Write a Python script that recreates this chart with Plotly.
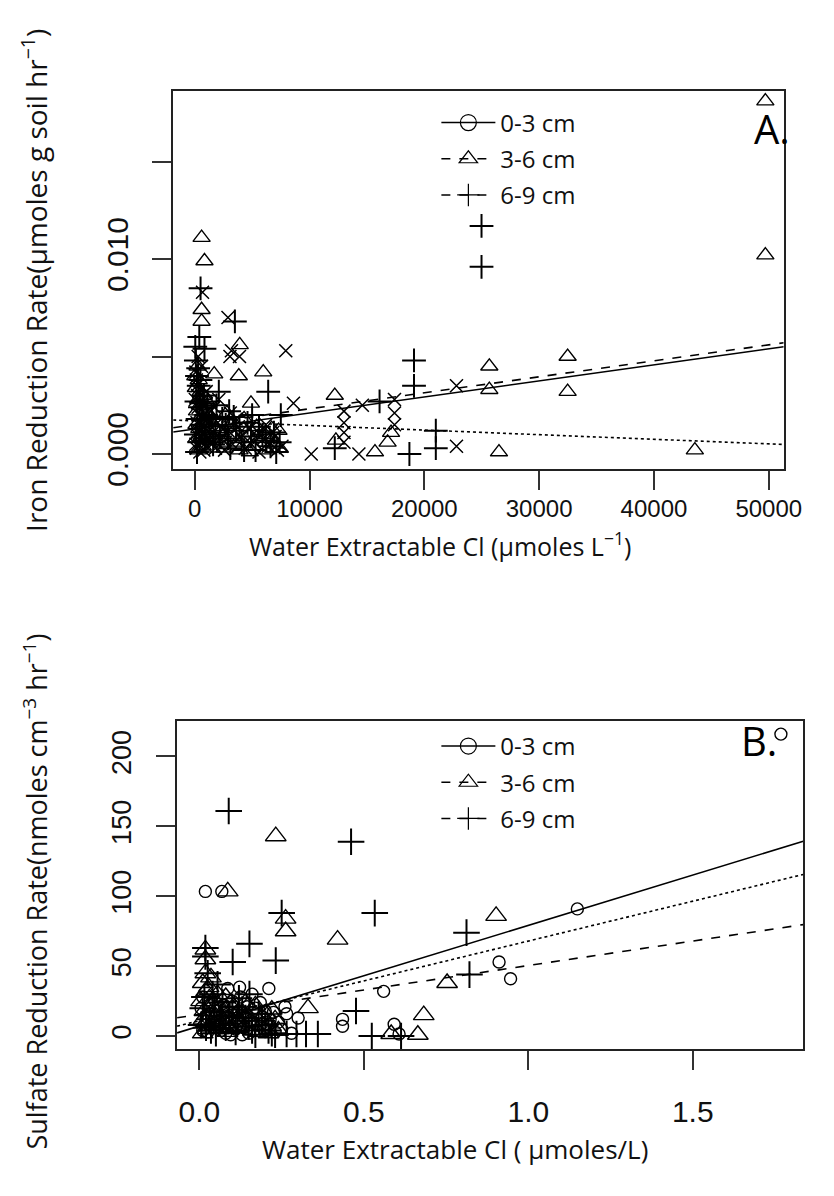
import plotly.graph_objects as go

# ---------------- Panel A data (Water extractable Cl, umol/L  vs  Fe reduction rate) ----------------
a03_x = [680, 2900, 3200, 3900, 3070, 7930, 8600, 10150, 14300, 14600, 13000, 13000, 13000, 13000,
         17400, 17400, 17400, 22800, 22800,
         150, 250, 300, 400, 200, 500, 350, 600, 150, 450, 700, 800, 900, 1000, 1100, 1200, 1400, 1600,
         1800, 2000, 2300, 2600, 2900, 3300, 3600, 4000, 4400, 4800, 5200, 5600, 6000, 6400, 6800, 7200,
         600, 300, 1000, 2100, 1500, 800,
         100, 200, 50, 350, 250, 100, 550, 650, 750, 950, 1300, 1700, 2500, 3100, 3800, 4600, 5400, 6200,
         7000, 7600]
a03_y = [0.0083, 0.0070, 0.0053, 0.0050, 0.0050, 0.0053, 0.0026, 0.0000, 0.0000, 0.0025, 0.0022, 0.0016, 0.0011, 0.0006,
         0.0028, 0.0021, 0.0015, 0.0035, 0.0004,
         0.0038, 0.0030, 0.0024, 0.0020, 0.0016, 0.0012, 0.0009, 0.0006, 0.0003, 0.0001, 0.0025, 0.0018, 0.0010, 0.0004,
         0.0014, 0.0007, 0.0022, 0.0011, 0.0003, 0.0016, 0.0008, 0.0002, 0.0012, 0.0005, 0.0018, 0.0009, 0.0003, 0.0013,
         0.0006, 0.0001, 0.0008, 0.0004, 0.0011, 0.0002, 0.0045, 0.0050, 0.0032, 0.0028, 0.0005, 0.0002,
         0.0042, 0.0035, 0.0028, 0.0032, 0.0011, 0.0005, 0.0027, 0.0015, 0.0008, 0.0021, 0.0017, 0.0024, 0.0013,
         0.0021, 0.0014, 0.0007, 0.0012, 0.0015, 0.0009, 0.0004]

a36_x = [49700, 49700, 600, 850, 600, 600, 32480, 32480, 25660, 25660, 26500, 43560, 12200, 1700, 3840, 5970,
         3920, 15700, 17100, 16800, 12300, 4900, 7300,
         100, 300, 200, 500, 400, 150, 700, 300, 900, 1200, 1100, 1500, 1900, 2400, 2800, 3400, 3900, 4500,
         5100, 5700, 6300, 7000, 500, 250,
         50, 150, 350, 450, 600, 800, 1000, 1300, 1700, 2200, 2600, 3100, 3700, 4300, 4800, 5400, 6100, 6700, 7400]
a36_y = [0.0181, 0.0102, 0.0111, 0.0099, 0.0074, 0.0068, 0.0050, 0.0032, 0.0045, 0.0033, 0.0001, 0.0002, 0.0030,
         0.0041, 0.0040, 0.0042, 0.0056, 0.0001, 0.0011, 0.0006, 0.0007, 0.0026, 0.0012,
         0.0034, 0.0028, 0.0022, 0.0019, 0.0013, 0.0008, 0.0004, 0.0002, 0.0016, 0.0026, 0.0009, 0.0003, 0.0013,
         0.0006, 0.0021, 0.0009, 0.0002, 0.0011, 0.0004, 0.0008, 0.0002, 0.0005, 0.0032, 0.0045,
         0.0040, 0.0015, 0.0038, 0.0025, 0.0009, 0.0030, 0.0014, 0.0020, 0.0008, 0.0016, 0.0003, 0.0015, 0.0006,
         0.0018, 0.0001, 0.0014, 0.0010, 0.0013, 0.0003]

a69_x = [24980, 24980, 19100, 19100, 3500, 510, 400, 850, 2100, 6400, 7500, 16100, 18700, 12200, 21000, 21000,
         100, 200, 350, 150, 450, 250, 600, 100, 400, 200, 800, 1000, 1300, 1600, 1900, 2200, 2700, 3100,
         3600, 4100, 4600, 5300, 5900, 6600, 7100, 3000, 5000,
         50, 300, 500, 700, 900, 1100, 1500, 1800, 2400, 2900, 3400, 3900, 4300, 4900, 5600, 6200, 6900, 7400]
a69_y = [0.0117, 0.0096, 0.0048, 0.0035, 0.0068, 0.0085, 0.0060, 0.0054, 0.0032, 0.0032, 0.0020, 0.0027, 0.0000,
         0.0003, 0.0012, 0.0003,
         0.0048, 0.0040, 0.0035, 0.0027, 0.0024, 0.0018, 0.0015, 0.0010, 0.0006, 0.0001, 0.0030, 0.0020, 0.0012,
         0.0005, 0.0025, 0.0009, 0.0015, 0.0003, 0.0012, 0.0006, 0.0016, 0.0002, 0.0010, 0.0004, 0.0001, 0.0022, 0.0020,
         0.0055, 0.0044, 0.0038, 0.0026, 0.0008, 0.0027, 0.0019, 0.0010, 0.0018, 0.0008, 0.0019, 0.0014, 0.0002,
         0.0009, 0.0014, 0.0007, 0.0011, 0.0006]

# regression lines (intercept, slope) for 0-3, 3-6, 6-9 cm
a_fit_int = [0.00128, 0.00150, 0.00170]
a_fit_slope = [8.23e-8, 8.2e-8, -2.36e-8]

# ---------------- Panel B data (Water extractable Cl vs sulfate reduction rate) ----------------
b03_x = [1.768, 1.149, 0.911, 0.946, 0.018, 0.068, 0.086, 0.122, 0.211, 0.56, 0.435, 0.435, 0.592, 0.607, 0.265, 0.24,
         0.01, 0.03, 0.05, 0.02, 0.04, 0.06, 0.01, 0.08, 0.10, 0.12, 0.14, 0.09, 0.11, 0.15, 0.17, 0.19, 0.21, 0.23,
         0.16, 0.13, 0.07, 0.25, 0.28, 0.20,
         0.005, 0.015, 0.025, 0.035, 0.045, 0.055, 0.065, 0.075, 0.085, 0.095, 0.105, 0.115, 0.125, 0.135,
         0.145, 0.155, 0.165, 0.175, 0.185, 0.195, 0.215, 0.225, 0.26, 0.30]
b03_y = [216, 91, 53, 41, 103.5, 103.5, 34, 35, 34, 32, 12, 7, 8.5, 1.5, 16, 10,
         28, 22, 18, 14, 10, 7, 4, 2, 25, 18, 13, 9, 5, 2, 20, 14, 8, 3, 30, 1, 15, 5, 2, 18,
         20, 8, 3, 16, 26, 11, 4, 22, 13, 1, 17, 10, 28, 6, 21, 11, 4, 8, 24, 5, 12, 17, 21, 13]

b36_x = [0.902, 0.753, 0.682, 0.664, 0.232, 0.086, 0.262, 0.262, 0.42, 0.018, 0.018, 0.018, 0.33, 0.583, 0.22,
         0.01, 0.02, 0.03, 0.04, 0.015, 0.05, 0.02, 0.06, 0.01, 0.08, 0.10, 0.12, 0.09, 0.14, 0.16, 0.18, 0.07,
         0.035, 0.20, 0.24,
         0.005, 0.012, 0.025, 0.028, 0.045, 0.055, 0.065, 0.075, 0.085, 0.095, 0.105, 0.115, 0.13, 0.15, 0.17,
         0.19, 0.21, 0.23]
b36_y = [86, 38, 15, 1, 143, 103.5, 84, 75, 69, 62, 55, 45, 20, 1.5, 19,
         38, 32, 27, 22, 18, 14, 10, 6, 2, 28, 20, 12, 5, 24, 9, 3, 17, 42, 16, 4,
         25, 12, 5, 35, 8, 30, 20, 11, 3, 24, 14, 7, 17, 14, 22, 8, 2, 12]

b69_x = [0.089, 0.461, 0.533, 0.25, 0.152, 0.101, 0.232, 0.018, 0.152, 0.476, 0.524, 0.812, 0.821, 0.613,
         0.265, 0.295, 0.324, 0.36,
         0.01, 0.03, 0.02, 0.05, 0.07, 0.06, 0.09, 0.11, 0.13, 0.15, 0.17, 0.19, 0.21, 0.23, 0.04, 0.12, 0.025,
         0.005, 0.015, 0.035, 0.045, 0.055, 0.065, 0.08, 0.10, 0.115, 0.14, 0.16, 0.18, 0.20, 0.22, 0.018]
b69_y = [161, 139, 88, 88, 66, 53, 54, 63, 30, 18, 0, 74, 44, 0,
         1.5, 1.5, 1.5, 1.5,
         20, 12, 6, 2, 24, 9, 15, 3, 19, 7, 1, 11, 4, 1, 30, 27, 45,
         8, 28, 4, 17, 37, 14, 6, 21, 9, 13, 4, 16, 8, 2, 57]

b_fit_int = [7.2, 15.5, 11.0]
b_fit_slope = [72.0, 35.0, 57.0]

depth_labels = ["0-3 cm", "3-6 cm", "6-9 cm"]
line_dashes = ["solid", "dash", "dot"]
legend_dashes = ["solid", "dash", "dash"]
legend_symbols = ["circle-open", "triangle-up-open", "cross-thin-open"]

a_xrange = [-1875, 51300]
a_yrange = [-0.00076, 0.01864]
b_xrange = [-0.068, 1.836]
b_yrange = [-9.2, 225.4]

fig = go.Figure()

BLK = "black"


def add_pts(x, y, sym, size, xa, ya, lw=1.4):
    fig.add_trace(go.Scatter(
        x=x, y=y, mode="markers", xaxis=xa, yaxis=ya, showlegend=False,
        marker=dict(symbol=sym, size=size, color=BLK, line=dict(color=BLK, width=lw))))


# Panel A points
add_pts(a03_x, a03_y, "x-thin-open", 13, "x", "y", lw=1.5)
add_pts(a36_x, a36_y, "triangle-up-open", 15, "x", "y")
add_pts(a69_x, a69_y, "cross-thin-open", 17, "x", "y", lw=2)

# Panel B points
add_pts(b03_x, b03_y, "circle-open", 12, "x2", "y2", lw=1.4)
add_pts(b36_x, b36_y, "triangle-up-open", 18, "x2", "y2")
add_pts(b69_x, b69_y, "cross-thin-open", 19, "x2", "y2", lw=2)

# regression lines
for i in range(3):
    fig.add_trace(go.Scatter(
        x=a_xrange, y=[a_fit_int[i] + a_fit_slope[i] * v for v in a_xrange],
        mode="lines", xaxis="x", yaxis="y", showlegend=False,
        line=dict(color=BLK, width=1.6, dash=line_dashes[i])))
    fig.add_trace(go.Scatter(
        x=b_xrange, y=[b_fit_int[i] + b_fit_slope[i] * v for v in b_xrange],
        mode="lines", xaxis="x2", yaxis="y2", showlegend=False,
        line=dict(color=BLK, width=1.6, dash=line_dashes[i])))

# legend entries
leg_sizes = [16, 22, 20]
for lg in ["legend", "legend2"]:
    for i in range(3):
        fig.add_trace(go.Scatter(
            x=[None], y=[None], mode="lines+markers", name=depth_labels[i], legend=lg,
            legendgroup=lg + str(i), xaxis="x" if lg == "legend" else "x2",
            yaxis="y" if lg == "legend" else "y2",
            line=dict(color=BLK, width=1.6, dash=legend_dashes[i]),
            marker=dict(symbol=legend_symbols[i], size=leg_sizes[i], color=BLK,
                        line=dict(color=BLK, width=1.2))))

W, H = 834, 1196
TF = "Liberation Sans, Arial"

axcommon = dict(showline=True, mirror=True, linecolor="#222", linewidth=2, ticks="outside",
                ticklen=19, tickwidth=1.6, tickcolor="#333", showgrid=False, zeroline=False)

leg_common = dict(bgcolor="rgba(0,0,0,0)", borderwidth=0,
                  font=dict(family="Open Sans", size=24, color="#111"),
                  tracegroupgap=2, xanchor="left", yanchor="top", itemwidth=54)

fig.update_layout(
    width=W, height=H, margin=dict(l=0, r=0, t=0, b=0),
    paper_bgcolor="white", plot_bgcolor="white",
    xaxis=dict(domain=[177 / W, 801 / W], range=a_xrange, anchor="y",
               tickvals=[0, 10000, 20000, 30000, 40000, 50000],
               ticktext=["0", "10000", "20000", "30000", "40000", "50000"],
               tickfont=dict(family=TF, size=24, color="#111"), ticklabelstandoff=-2, **axcommon),
    yaxis=dict(domain=[1 - 476 / H, 1 - 92 / H], range=a_yrange, anchor="x",
               tickvals=[0, 0.005, 0.010, 0.015], ticktext=["0.000", "", "0.010", ""],
               tickangle=-90, tickfont=dict(family=TF, size=30, color="#111"), ticklabelstandoff=12,
               **axcommon),
    xaxis2=dict(domain=[181 / W, 821 / W], range=b_xrange, anchor="y2",
                tickvals=[0, 0.5, 1.0, 1.5], ticktext=["0.0", "0.5", "1.0", "1.5"],
                tickfont=dict(family=TF, size=30, color="#111"), ticklabelstandoff=16, **axcommon),
    yaxis2=dict(domain=[1 - 1065 / H, 1 - 732 / H], range=b_yrange, anchor="x2",
                tickvals=[0, 50, 100, 150, 200], ticktext=["0", "50", "100", "150", "200"],
                tickangle=-90, tickfont=dict(family=TF, size=27, color="#111"), ticklabelstandoff=14,
                **axcommon),
    legend=dict(x=446 / W, y=1 - 102 / H, **leg_common),
    legend2=dict(x=446 / W, y=1 - 735 / H, **leg_common),
)

ann = [
    dict(text="Water Extractable Cl (\u00b5moles L<sup>\u22121</sup>)", x=450 / W, y=1 - 553 / H,
         font=dict(family="Open Sans", size=25, color="#111")),
    dict(text="Water Extractable Cl ( \u00b5moles/L)", x=465 / W, y=1 - 1167 / H,
         font=dict(family="Open Sans", size=26, color="#111")),
    dict(text="Iron Reduction Rate(\u00b5moles g soil hr<sup>\u22121</sup>)", x=36 / W, y=1 - 285 / H,
         textangle=-90, font=dict(family="Open Sans", size=28, color="#111")),
    dict(text="Sulfate Reduction Rate(nmoles cm<sup>\u22123</sup> hr<sup>\u22121</sup>)", x=36 / W,
         y=1 - 905 / H, textangle=-90, font=dict(family="Open Sans", size=27, color="#111")),
    dict(text="A.", x=789 / W, y=1 - 130 / H, font=dict(family="Open Sans", size=40, color="black")),
    dict(text="B.", x=776 / W, y=1 - 752 / H, font=dict(family="Open Sans", size=40, color="black")),
]
for a in ann:
    a.update(xref="paper", yref="paper", showarrow=False, xanchor="center", yanchor="middle")
fig.update_layout(annotations=ann)

fig.write_html("out.html")
